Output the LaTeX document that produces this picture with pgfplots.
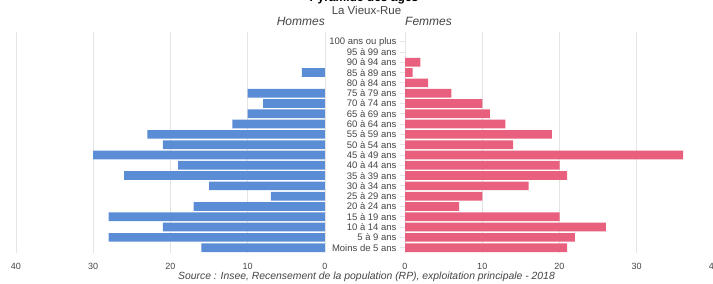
\documentclass[border=0pt]{standalone}
\usepackage{pgfplots}
\pgfplotsset{compat=1.18}
\usepackage{pgfplotstable}
\usepackage{fontspec}
\setmainfont{Liberation Sans}
\definecolor{hom}{HTML}{5B8DD6}
\definecolor{fem}{HTML}{E8607D}
\definecolor{grd}{HTML}{E4E4E4}
\definecolor{txt}{HTML}{444444}

\pgfplotstableread{
y h
0 16
1 28
2 21
3 28
4 17
5 7
6 15
7 26
8 19
9 30
10 21
11 23
12 12
13 10
14 8
15 10
17 3
}\hommes

\pgfplotstableread{
y f
0 21
1 22
2 26
3 20
4 7
5 10
6 16
7 21
8 20
9 36
10 14
11 19
12 13
13 11
14 10
15 6
16 3
17 1
18 2
}\femmes

\pgfplotsset{
  pyr/.style={
    xbar, bar width=8.7pt,
    scale only axis, width=309pt, height=220.85pt,
    ymin=-0.5, ymax=20.94, xmin=0, xmax=40,
    xtick={0,10,20,30,40},
    xmajorgrids, grid style={grd, line width=0.8pt},
    axis line style={draw=none},
    x tick style={draw=none},
    /pgf/number format/assume math mode=true,
    xticklabel style={font=\fontsize{9}{10}\selectfont, text=txt, yshift=-6.5pt},
  }
}

\begin{document}
\begin{tikzpicture}[x=1pt,y=1pt]
\useasboundingbox (0,0) rectangle (713,284);
\begin{axis}[pyr, at={(16pt,31.15pt)}, anchor=south west, x dir=reverse,
  ytick=\empty]
  \addplot[fill=hom, draw=none] table[x=h, y=y] {\hommes};
\end{axis}
\begin{axis}[pyr, at={(405pt,31.15pt)}, anchor=south west,
  ytick={0,...,20},
  yticklabels={Moins de 5 ans,5 à 9 ans,10 à 14 ans,15 à 19 ans,20 à 24 ans,25 à 29 ans,30 à 34 ans,35 à 39 ans,40 à 44 ans,45 à 49 ans,50 à 54 ans,55 à 59 ans,60 à 64 ans,65 à 69 ans,70 à 74 ans,75 à 79 ans,80 à 84 ans,85 à 89 ans,90 à 94 ans,95 à 99 ans,100 ans ou plus},
  y tick style={grd, line width=0.8pt},
  tick align=outside, major tick length=5pt,
  xticklabel style={yshift=5pt},
  yticklabel style={font=\fontsize{9.5}{10}\selectfont, text=txt}]
  \addplot[fill=fem, draw=none] table[x=f, y=y] {\femmes};
\end{axis}
\node[anchor=base, font=\bfseries\fontsize{12}{14}\selectfont, text=black] at (364,282.3) {Pyramide des âges};
\node[anchor=base, font=\fontsize{11.5}{13}\selectfont, text=txt] at (366.5,269) {La Vieux-Rue};
\node[anchor=base east, inner sep=0pt, font=\itshape\fontsize{12}{14}\selectfont, text=txt] at (325,258) {Hommes};
\node[anchor=base west, inner sep=0pt, font=\itshape\fontsize{12}{14}\selectfont, text=txt] at (405,258) {Femmes};
\node[anchor=base, font=\itshape\fontsize{10.4}{12}\selectfont, text=txt] at (366.5,4.7) {Source : Insee, Recensement de la population (RP), exploitation principale - 2018};
\end{tikzpicture}
\end{document}
